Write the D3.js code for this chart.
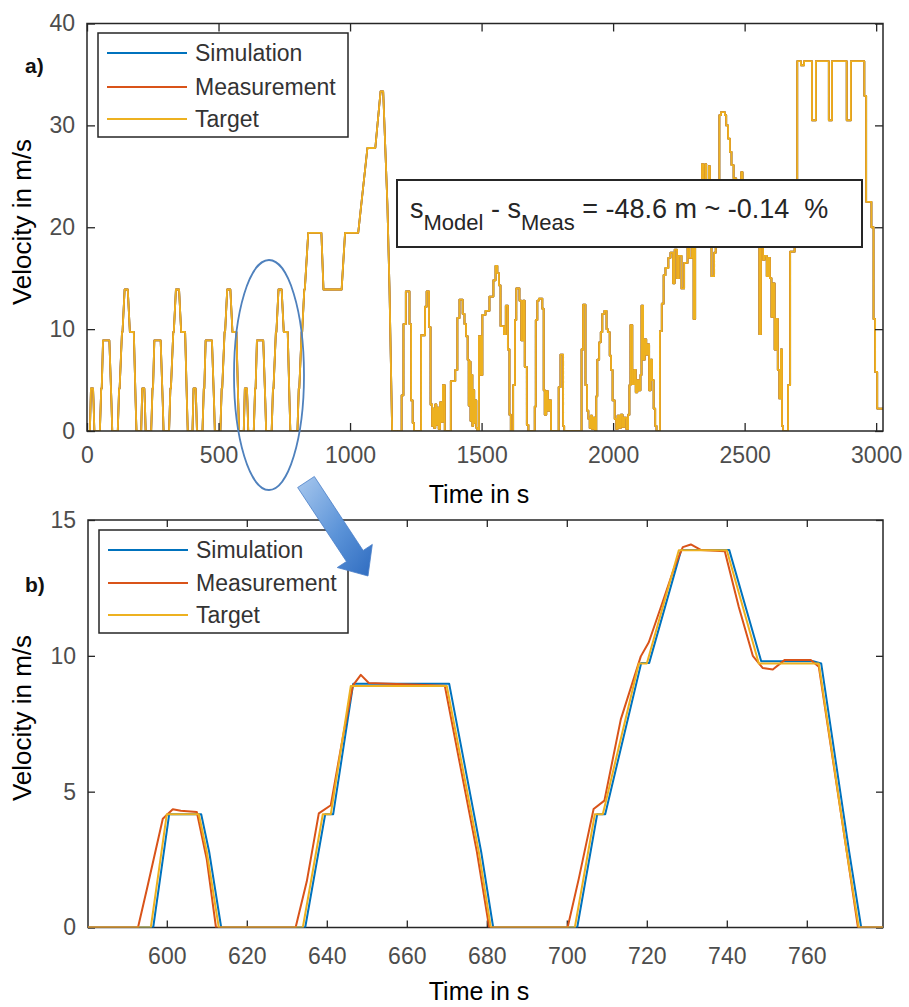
<!DOCTYPE html>
<html>
<head>
<meta charset="utf-8">
<script src="https://cdn.jsdelivr.net/npm/d3@7"></script>
<style>
  html, body { margin: 0; padding: 0; background: #fff; }
  svg { display: block; font-family: "Liberation Sans", Arial, Helvetica, sans-serif; }
</style>
</head>
<body>
<svg id="chart" width="909" height="1007"></svg>
<script>
// ---------- data ----------
// ECE-15 urban cycle, one repetition: time in s, speed in m/s
const eceTime  = [0, 11, 15, 23, 25, 28, 49, 54, 56, 61, 85, 93, 96, 117, 122, 124, 133, 135, 143, 155, 163, 176, 178, 185, 188, 195];
const eceSpeed = [0, 0, 4.17, 4.17, 2.78, 0, 0, 4.17, 4.17, 8.89, 8.89, 2.78, 0, 0, 4.17, 4.17, 9.72, 9.72, 13.89, 13.89, 9.72, 9.72, 9.72, 2.78, 0, 0];
const eceStarts = [0, 195, 390, 585];

// Extra-urban part, begins after the four urban repetitions
const eudcStart = 780;
const eudcTime  = [0, 20, 25, 27, 36, 38, 46, 48, 61, 111, 119, 188, 201, 251, 286, 316, 336, 346, 362, 370, 380, 400];
const eudcSpeed = [0, 0, 4.17, 4.17, 9.72, 9.72, 13.89, 13.89, 19.44, 19.44, 13.89, 13.89, 19.44, 19.44, 27.78, 27.78, 33.33, 33.33, 22.22, 13.89, 0, 0];

// Road section after the cycle, held values (step after each time)
const routeTime = [1180, 1196, 1203, 1212, 1226, 1232, 1238, 1243, 1270, 1285, 1291, 1300, 1306, 1312, 1316, 1320, 1324, 1328, 1333, 1337,
  1342, 1348, 1353, 1360, 1383, 1400, 1408, 1416, 1428, 1435, 1441, 1447, 1451, 1454, 1458, 1461, 1465, 1468, 1472, 1476,
  1480, 1484, 1490, 1497, 1503, 1515, 1530, 1545, 1553, 1560, 1566, 1572, 1585, 1592, 1600, 1606, 1611, 1620, 1627, 1632,
  1644, 1651, 1658, 1664, 1672, 1678, 1702, 1706, 1712, 1718, 1731, 1736, 1740, 1746, 1752, 1758, 1764, 1793, 1800, 1810,
  1814, 1880, 1886, 1895, 1901, 1906, 1911, 1915, 1920, 1926, 1931, 1936, 1940, 1947, 1953, 1959, 1967, 1975, 1980, 1987,
  1992, 1998, 2006, 2012, 2017, 2023, 2029, 2036, 2042, 2050, 2057, 2062, 2066, 2073, 2080, 2086, 2092, 2098, 2104, 2108,
  2114, 2120, 2126, 2131, 2137, 2143, 2148, 2154, 2160, 2165, 2178, 2185, 2192, 2199, 2210, 2218, 2228, 2234, 2243, 2250,
  2260, 2270, 2283, 2290, 2300, 2306, 2312, 2320, 2334, 2338, 2342, 2350, 2354, 2364, 2368, 2374, 2384, 2390, 2400, 2404,
  2410, 2425, 2430, 2437, 2444, 2450, 2458, 2468, 2487, 2492, 2520, 2556, 2562, 2570, 2576, 2584, 2590, 2596, 2602, 2608,
  2614, 2620, 2626, 2632, 2638, 2642, 2646, 2665, 2673, 2690, 2700, 2714, 2726, 2756, 2771, 2820, 2832, 2888, 2904, 2955,
  2962, 2982, 2990, 2996, 3004, 3026];
const routeSpeed = [0, 3.5, 10.5, 13.7, 10.5, 3.0, 0.8, 0, 9.4, 12.2, 13.7, 10.2, 2.6, 0.5, 2.2, 0.3, 2.6, 0.6, 2.3, 0.2,
  2.8, 0.9, 4.5, 0, 4.9, 6.0, 11.1, 12.9, 11.5, 10.5, 9.3, 7.0, 2.5, 6.8, 1.0, 5.5, 0.5, 4.0, 0.8, 3.0,
  0.3, 0, 9.3, 5.5, 11.4, 11.8, 13.2, 14.8, 16.2, 15.5, 14.3, 10.3, 9.5, 12.3, 8.0, 1.6, 0, 4.5, 10.9, 14.0,
  12.8, 8.9, 12.8, 6.3, 0.6, 0, 2.4, 10.9, 12.8, 13.0, 12.0, 4.0, 1.6, 3.9, 2.0, 3.0, 0, 4.3, 7.5, 0.5,
  0, 8.0, 12.4, 4.5, 2.0, 1.2, 0.3, 1.5, 0.2, 1.3, 0, 3.4, 7.0, 8.7, 9.7, 11.5, 11.8, 10.0, 9.7, 7.4,
  6.0, 3.0, 1.2, 0.2, 1.5, 0.3, 1.6, 0.4, 1.3, 0.2, 1.6, 4.5, 10.4, 4.6, 6.0, 3.8, 5.0, 4.0, 5.5, 12.3,
  7.0, 9.0, 7.5, 8.5, 4.0, 7.0, 5.0, 2.2, 0.5, 0, 9.8, 12.5, 15.3, 16.0, 17.0, 17.5, 14.5, 17.8, 15.0, 17.2,
  14.0, 16.5, 18.8, 17.0, 20.5, 11.0, 19.0, 20.5, 22.5, 26.2, 22.0, 26.2, 22.5, 26.0, 21.0, 15.2, 17.5, 21.0, 24.5, 31.0,
  31.3, 31.0, 30.0, 28.7, 27.4, 26.1, 24.8, 23.0, 25.4, 22.5, 21.5, 9.5, 21.0, 16.8, 17.2, 15.2, 17.0, 15.0, 11.2, 14.5,
  8.0, 11.0, 6.0, 3.2, 8.0, 0.5, 0, 4.5, 17.6, 22.0, 36.3, 35.9, 36.3, 30.5, 36.3, 30.5, 36.3, 30.5, 36.3, 32.9,
  22.5, 20.0, 11.0, 5.8, 2.2, 2.2];

// Detail window 580–779 s: simulated and measured speed
const simTime  = [580, 596.6, 600.6, 608.6, 610.6, 613.6, 634.6, 639.6, 641.6, 646.6, 670.6, 678.6, 681.6, 702.6, 707.6, 709.6, 718.6, 720.6, 728.6, 740.6, 748.6, 761.6, 763.6, 770.6, 773.6, 779];
const simSpeed = [0, 0, 4.17, 4.17, 2.78, 0, 0, 4.17, 4.17, 8.97, 8.97, 2.78, 0, 0, 4.17, 4.17, 9.74, 9.74, 13.9, 13.9, 9.8, 9.8, 9.72, 2.78, 0, 0];
const measTime  = [580, 592.8, 595, 599, 601.5, 603.5, 607.5, 610, 612.3, 632.2, 635, 638, 641, 644, 646.5, 648.5, 650.5, 669.5, 677.5, 680.6,
  700.2, 703, 706.7, 709.4, 713.5, 718.5, 720.5, 724, 727, 729, 731, 733.5, 739.5, 743, 746.5, 749, 751.5, 754.5, 761, 763, 770, 772.8, 779];
const measSpeed = [0, 0, 1.4, 4.0, 4.35, 4.3, 4.25, 2.5, 0, 0, 1.7, 4.2, 4.5, 7.0, 8.9, 9.3, 9.0, 8.9, 2.8, 0,
  0, 1.8, 4.36, 4.67, 7.66, 9.98, 10.5, 12.0, 13.3, 14.0, 14.1, 13.9, 13.85, 11.8, 10.0, 9.55, 9.5, 9.85, 9.85, 9.6, 2.78, 0, 0];

const seriesNames  = ["Simulation", "Measurement", "Target"];
const seriesColors = ["#0072BD", "#D95319", "#EDB120"];

const topXTicks = [0, 500, 1000, 1500, 2000, 2500, 3000];
const topYTicks = [0, 10, 20, 30, 40];
const botXTicks = [600, 620, 640, 660, 680, 700, 720, 740, 760];
const botYTicks = [0, 5, 10, 15];

const distanceNote = { lead: "s", sub1: "Model", mid: " - s", sub2: "Meas", tail: " = -48.6 m ~ -0.14  %" };

// ---------- assemble series ----------
const cycle = [];
eceStarts.forEach(s => eceTime.forEach((t, i) => cycle.push({ t: s + t, v: eceSpeed[i] })));
eudcTime.forEach((t, i) => cycle.push({ t: eudcStart + t, v: eudcSpeed[i] }));
const route = routeTime.map((t, i) => ({ t, v: routeSpeed[i] }));
const sim = simTime.map((t, i) => ({ t, v: simSpeed[i] }));
const meas = measTime.map((t, i) => ({ t, v: measSpeed[i] }));

// ---------- drawing ----------
const svg = d3.select("#chart");
svg.append("rect").attr("width", 909).attr("height", 1007).attr("fill", "#fff");
const defs = svg.append("defs");

const AX = "#262626", TXT = "#4d4d4d";
const fmt = d3.format("d");

const xTop = d3.scaleLinear().domain([0, 3026]).range([87, 883]);
const yTop = d3.scaleLinear().domain([0, 40]).range([431, 23.5]);
const xBot = d3.scaleLinear().domain([580.3, 779.05]).range([88, 883]);
const yBot = d3.scaleLinear().domain([0, 15]).range([927.5, 520]);

function clip(id, x, y) {
  defs.append("clipPath").attr("id", id).append("rect")
    .attr("x", x.range()[0]).attr("y", y.range()[1])
    .attr("width", x.range()[1] - x.range()[0]).attr("height", y.range()[0] - y.range()[1]);
}
clip("clipTop", xTop, yTop);
clip("clipBot", xBot, yBot);

function styleAxis(g, fontSize) {
  g.select(".domain").remove();
  g.selectAll(".tick line").attr("stroke", AX).attr("stroke-width", 1.3);
  g.selectAll(".tick text").attr("fill", TXT).attr("font-size", fontSize)
    .attr("font-family", "Liberation Sans, Arial, sans-serif");
}

function frame(layer, x, y, xTicks, yTicks, tick, xPad, fs) {
  const [x0, x1] = x.range(), [y0, y1] = y.range();
  layer.append("g").attr("transform", `translate(0,${y0})`)
    .call(d3.axisBottom(x).tickValues(xTicks).tickFormat(fmt).tickSizeInner(-tick).tickSizeOuter(0).tickPadding(xPad))
    .call(g => styleAxis(g, fs));
  layer.append("g").attr("transform", `translate(0,${y1})`)
    .call(d3.axisTop(x).tickValues(xTicks).tickSizeInner(-tick).tickSizeOuter(0).tickFormat(""))
    .call(g => styleAxis(g, fs));
  layer.append("g").attr("transform", `translate(${x0},0)`)
    .call(d3.axisLeft(y).tickValues(yTicks).tickFormat(fmt).tickSizeInner(-tick).tickSizeOuter(0).tickPadding(12))
    .call(g => styleAxis(g, fs));
  layer.append("g").attr("transform", `translate(${x1},0)`)
    .call(d3.axisRight(y).tickValues(yTicks).tickSizeInner(-tick).tickSizeOuter(0).tickFormat(""))
    .call(g => styleAxis(g, fs));
  layer.append("rect").attr("x", x0).attr("y", y1).attr("width", x1 - x0).attr("height", y0 - y1)
    .attr("fill", "none").attr("stroke", AX).attr("stroke-width", 1.5);
}

// ---- top panel: full drive ----
const topLines = svg.append("g").attr("clip-path", "url(#clipTop)");
const lineTopLin = d3.line().x(d => xTop(d.t)).y(d => yTop(d.v));
const lineTopStep = d3.line().x(d => xTop(d.t)).y(d => yTop(d.v)).curve(d3.curveStepAfter);
seriesColors.forEach(c => {
  topLines.append("path").datum(cycle).attr("d", lineTopLin)
    .attr("fill", "none").attr("stroke", c).attr("stroke-width", 1.8).attr("stroke-linejoin", "round");
  topLines.append("path").datum(route).attr("d", lineTopStep)
    .attr("fill", "none").attr("stroke", c).attr("stroke-width", 1.8).attr("stroke-linejoin", "round");
});
frame(svg.append("g"), xTop, yTop, topXTicks, topYTicks, 8, 16, 23);

// ---- bottom panel: detail window ----
frame(svg.append("g"), xBot, yBot, botXTicks, botYTicks, 7, 20, 23);
const botLines = svg.append("g").attr("clip-path", "url(#clipBot)");
const lineBot = d3.line().x(d => xBot(d.t)).y(d => yBot(d.v));
[sim, meas, cycle].forEach((data, i) => {
  botLines.append("path").datum(data).attr("d", lineBot)
    .attr("fill", "none").attr("stroke", seriesColors[i]).attr("stroke-width", 2)
    .attr("stroke-linejoin", "round");
});

// ---- axis titles ----
function xTitle(x, y) {
  svg.append("text").attr("x", x).attr("y", y).attr("text-anchor", "middle")
    .attr("font-size", 25).attr("fill", "#000").text("Time in s");
}
function yTitle(xBase, yc) {
  svg.append("text").attr("transform", `translate(${xBase},${yc}) rotate(-90)`)
    .attr("text-anchor", "middle").attr("font-size", 26).attr("fill", "#000").text("Velocity in m/s");
}
xTitle(479, 503);
xTitle(479, 1000);
yTitle(31, 222);
yTitle(31, 718);

// ---- panel tags ----
[["a)", 73], ["b)", 592]].forEach(([s, y]) => {
  svg.append("text").attr("x", 25).attr("y", y).attr("font-size", 21).attr("font-weight", "bold")
    .attr("fill", "#111").text(s);
});

// ---- legends ----
function legend(x0, y0, w, h, rows) {
  const g = svg.append("g");
  g.append("rect").attr("x", x0).attr("y", y0).attr("width", w).attr("height", h)
    .attr("fill", "#fff").attr("stroke", AX).attr("stroke-width", 1.5);
  seriesNames.forEach((name, i) => {
    const yy = rows[i];
    g.append("line").attr("x1", x0 + 9).attr("x2", x0 + 89).attr("y1", yy).attr("y2", yy)
      .attr("stroke", seriesColors[i]).attr("stroke-width", 2);
    g.append("text").attr("x", x0 + 97).attr("y", yy).attr("dy", "0.36em")
      .attr("font-size", 23).attr("fill", "#333").text(name);
  });
}
legend(98, 33, 250, 104, [53, 87, 119]);
legend(99, 530, 249, 103, [550, 583, 615]);

// ---- distance note ----
svg.append("rect").attr("x", 397).attr("y", 180).attr("width", 465).attr("height", 67)
  .attr("fill", "#fff").attr("stroke", AX).attr("stroke-width", 2);
const note = svg.append("text").attr("x", 410).attr("y", 218).attr("font-size", 27)
  .attr("fill", "#262626").attr("xml:space", "preserve").style("white-space", "pre");
note.append("tspan").text(distanceNote.lead);
note.append("tspan").attr("dy", 12).attr("font-size", 22).text(distanceNote.sub1);
note.append("tspan").attr("dy", -12).text(distanceNote.mid);
note.append("tspan").attr("dy", 12).attr("font-size", 22).text(distanceNote.sub2);
note.append("tspan").attr("dy", -12).text(distanceNote.tail);

// ---- zoom marker: ellipse and arrow ----
svg.append("ellipse").attr("cx", 269).attr("cy", 375).attr("rx", 35).attr("ry", 115)
  .attr("fill", "none").attr("stroke", "#4F81BD").attr("stroke-width", 1.8);

const grad = defs.append("linearGradient").attr("id", "arrowFill")
  .attr("x1", "0%").attr("y1", "0%").attr("x2", "100%").attr("y2", "100%");
grad.append("stop").attr("offset", "0%").attr("stop-color", "#a8c8ee");
grad.append("stop").attr("offset", "55%").attr("stop-color", "#5b93d8");
grad.append("stop").attr("offset", "100%").attr("stop-color", "#2f6cc0");

const tail = [306, 482], tip = [368, 576], shaftW = 20, headW = 42, headL = 24;
const len = Math.hypot(tip[0] - tail[0], tip[1] - tail[1]);
const u = [(tip[0] - tail[0]) / len, (tip[1] - tail[1]) / len], n = [-u[1], u[0]];
const base = [tip[0] - u[0] * headL, tip[1] - u[1] * headL];
const pt = (p, k) => [p[0] + n[0] * k, p[1] + n[1] * k];
const arrowPts = [pt(tail, shaftW / 2), pt(base, shaftW / 2), pt(base, headW / 2), tip,
  pt(base, -headW / 2), pt(base, -shaftW / 2), pt(tail, -shaftW / 2)];
svg.append("polygon").attr("points", arrowPts.map(p => p.join(",")).join(" "))
  .attr("fill", "url(#arrowFill)").attr("stroke", "#4a7fc8").attr("stroke-width", 0.8);
</script>
</body>
</html>
